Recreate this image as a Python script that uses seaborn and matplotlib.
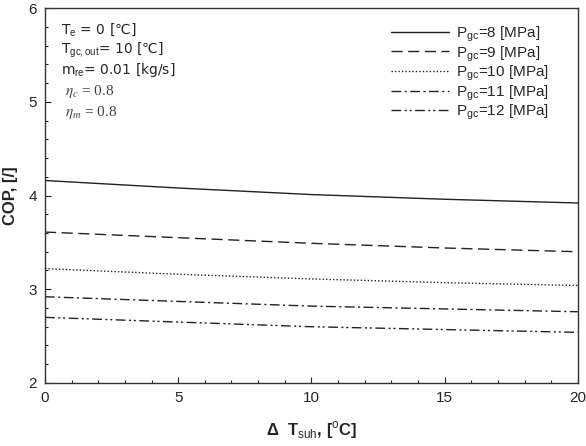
import pandas as pd
import numpy as np
import matplotlib.pyplot as plt
import seaborn as sns
from matplotlib.ticker import MultipleLocator

# data
dT_sub = [0, 5, 10, 15, 20]
cop_p8 = [4.16, 4.08, 4.01, 3.96, 3.92]
cop_p9 = [3.61, 3.55, 3.49, 3.44, 3.40]
cop_p10 = [3.22, 3.16, 3.11, 3.07, 3.04]
cop_p11 = [2.92, 2.87, 2.82, 2.79, 2.76]
cop_p12 = [2.70, 2.65, 2.60, 2.57, 2.54]
labels = [r"P$_{\rm gc}$=8 [MPa]", r"P$_{\rm gc}$=9 [MPa]", r"P$_{\rm gc}$=10 [MPa]",
          r"P$_{\rm gc}$=11 [MPa]", r"P$_{\rm gc}$=12 [MPa]"]
series = [cop_p8, cop_p9, cop_p10, cop_p11, cop_p12]

rows = []
for lab, vals in zip(labels, series):
    for x, v in zip(dT_sub, vals):
        rows.append({"dT": x, "COP": v, "case": lab})
df = pd.DataFrame(rows)

sns.set_style("ticks")
plt.rcParams['font.family'] = ['Liberation Sans', 'DejaVu Sans']
plt.rcParams['mathtext.fontset'] = 'custom'
plt.rcParams['mathtext.rm'] = 'Liberation Sans'

dashes = {
    labels[0]: "",
    labels[1]: (8, 4),
    labels[2]: (1, 1.5),
    labels[3]: (7, 2.5, 1.5, 2.5),
    labels[4]: (7, 2.5, 1.5, 2, 1.5, 2.5),
}

fig = plt.figure(figsize=(5.86, 4.46), dpi=100)
ax = fig.add_axes([0.0768, 0.1413, 0.9092, 0.8407])
sns.lineplot(data=df, x="dT", y="COP", style="case", dashes=dashes, color="#222222",
             linewidth=1.0, legend=False, ax=ax)

ax.set_xlim(0, 20)
ax.set_ylim(2, 6)
ax.xaxis.set_major_locator(MultipleLocator(5))
ax.xaxis.set_minor_locator(MultipleLocator(1))
ax.yaxis.set_major_locator(MultipleLocator(1))
ax.yaxis.set_minor_locator(MultipleLocator(0.2))
ax.tick_params(which="both", direction="in", labelsize=11, width=0.8)
ax.tick_params(which="major", length=4, pad=6)
ax.tick_params(which="minor", length=2.5)
for s in ax.spines.values():
    s.set_linewidth(1.0)
    s.set_color("#333333")

ax.set_xlabel(r"Δ  T$_{\rm suh}$, [$^{\rm o}$C]", fontsize=12, fontweight="bold", labelpad=10)
ax.set_ylabel("COP, [/]", fontsize=12, fontweight="bold", labelpad=7)

ax.legend(handles=ax.lines, labels=labels, loc="upper right", frameon=False,
          fontsize=11, handlelength=3.8, handletextpad=0.4, labelspacing=0.0,
          borderaxespad=0.3, bbox_to_anchor=(0.965, 0.985))

ann = dict(transform=ax.transAxes, fontsize=10, va="top", family="DejaVu Sans")
ax.text(0.03, 0.965, "T$_{\\rm e}$ = 0 [℃]", **ann)
ax.text(0.03, 0.912, "T$_{\\rm gc,out}$= 10 [℃]", **ann)
ax.text(0.03, 0.859, "m$_{\\rm re}$= 0.01 [kg/s]", **ann)
ax.text(0.038, 0.80, r"$\eta_c$ = 0.8", transform=ax.transAxes, fontsize=11,
        va="top", family="Liberation Serif", math_fontfamily="stix", color="#444444")
ax.text(0.038, 0.745, r"$\eta_m$ = 0.8", transform=ax.transAxes, fontsize=11,
        va="top", family="Liberation Serif", math_fontfamily="stix", color="#444444")

plt.savefig("out.png", dpi=100)
plt.close()
